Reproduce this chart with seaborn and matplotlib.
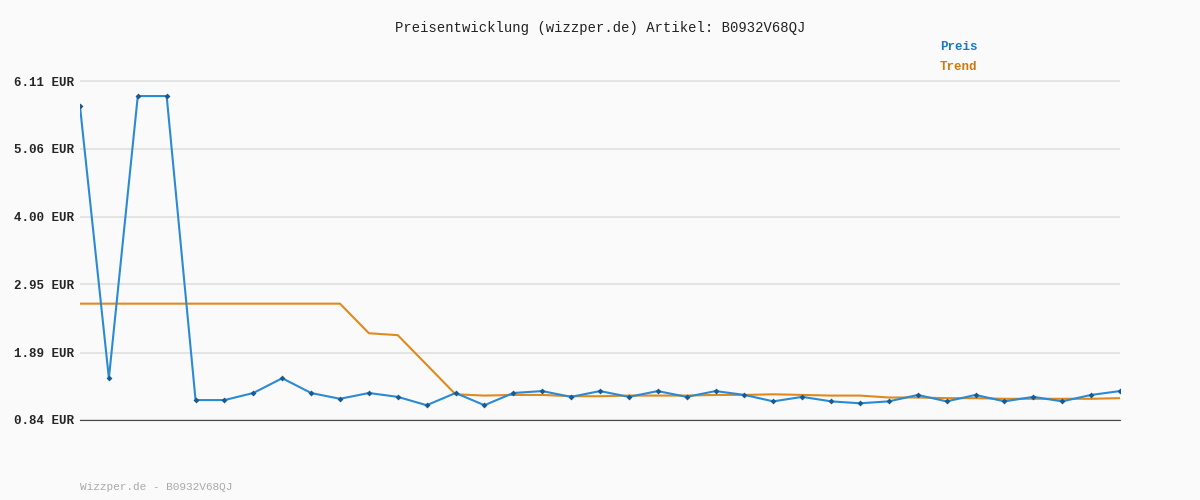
import numpy as np
import pandas as pd
import matplotlib
matplotlib.use("Agg")
import matplotlib.pyplot as plt
import seaborn as sns

preis = [5.72, 1.49, 5.88, 5.88, 1.15, 1.15, 1.26, 1.49, 1.26, 1.17, 1.26, 1.20,
         1.07, 1.26, 1.07, 1.26, 1.29, 1.20, 1.29, 1.20, 1.29, 1.20, 1.29, 1.23,
         1.13, 1.20, 1.13, 1.10, 1.13, 1.23, 1.13, 1.23, 1.13, 1.20, 1.13, 1.23, 1.29]
trend = [2.65] * 10 + [2.19, 2.16, 1.70, 1.24, 1.22, 1.23, 1.23, 1.21, 1.21, 1.22,
         1.22, 1.22, 1.23, 1.23, 1.24, 1.23, 1.22, 1.22, 1.19, 1.19, 1.18, 1.18,
         1.17, 1.17, 1.17, 1.17, 1.18]
yticks = [0.84, 1.89, 2.95, 4.00, 5.06, 6.11]

df = pd.DataFrame({"idx": np.arange(len(preis)), "Preis": preis, "Trend": trend})

sns.set_style("white")
plt.rcParams['font.family'] = ['Liberation Mono', 'DejaVu Sans Mono']
fig = plt.figure(figsize=(12, 5), dpi=100, facecolor="#fafafa")
ax = fig.add_axes([80/1200, 80/500, 1040/1200, 340/500], facecolor="#fafafa")

sns.lineplot(data=df, x="idx", y="Trend", color="#e08a1e", lw=1.5, ax=ax)
sns.lineplot(data=df, x="idx", y="Preis", color="#2a8ad4", lw=1.5, marker="D",
             markersize=3, markeredgewidth=0, mfc="#1a5a90", ax=ax)

ax.set_xlim(0, len(preis) - 1)
ax.set_ylim(0.84, 6.11 + 0.02)
ax.set_yticks(yticks)
ax.set_yticklabels([f"{v:.2f} EUR" for v in yticks], fontsize=9, fontweight="bold")
ax.set_xticks([])
ax.set_xlabel("")
ax.set_ylabel("")
ax.grid(axis="y", color="#e4e4e4", lw=1.5)
for s in ["top", "right", "left"]:
    ax.spines[s].set_visible(False)
ax.spines["bottom"].set_color("#444444")
ax.tick_params(axis="y", length=0, pad=4)

fig.text(0.5, 1 - 28/500, "Preisentwicklung (wizzper.de) Artikel: B0932V68QJ",
         ha="center", va="center", fontsize=10, color="#222222")
fig.text(940/1200, 1 - 47/500, "Preis", color="#1a7ac0", fontsize=9, fontweight="bold", va="center")
fig.text(940/1200, 1 - 67/500, "Trend", color="#d07a10", fontsize=9, fontweight="bold", va="center")
fig.text(80/1200, 1 - 487/500, "Wizzper.de - B0932V68QJ", color="#aaaaaa", fontsize=8, va="center")

fig.savefig("out.png", dpi=100, facecolor=fig.get_facecolor())
